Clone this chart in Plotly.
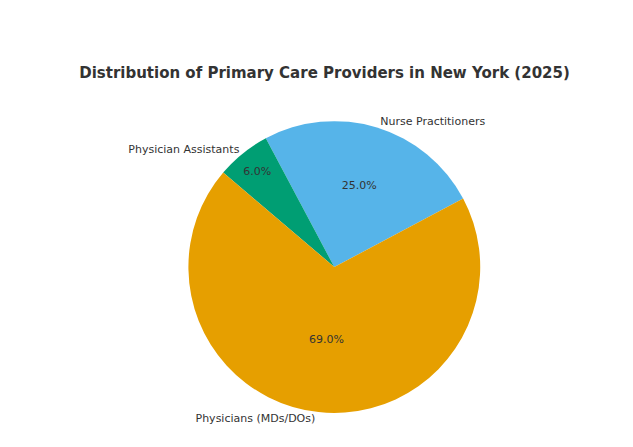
import plotly.graph_objects as go

labels = ["Nurse Practitioners", "Physician Assistants", "Physicians (MDs/DOs)"]
values = [25.0, 6.0, 69.0]
colors = ["#56B4E9", "#009E73", "#E69F00"]

dom = dict(x=[0.285, 0.746], y=[0.094, 0.747])
fig = go.Figure()
fig.add_trace(go.Pie(labels=labels, values=values, sort=False, direction="counterclockwise",
                     rotation=-28, marker=dict(colors=colors), textinfo="percent",
                     texttemplate="%{percent:.1%}", textposition="inside", insidetextorientation="horizontal",
                     textfont=dict(size=11, color="#333333", family="DejaVu Sans"), domain=dom,
                     showlegend=False, hoverinfo="label+percent"))
fig.add_trace(go.Pie(labels=labels, values=values, sort=False, direction="counterclockwise",
                     rotation=-28, marker=dict(colors=["rgba(0,0,0,0)"] * 3), textinfo="label",
                     textposition="outside", textfont=dict(size=11, color="#333333", family="DejaVu Sans"),
                     domain=dom, showlegend=False, hoverinfo="skip"))
fig.update_layout(
    width=633, height=447, paper_bgcolor="white", plot_bgcolor="white",
    margin=dict(l=0, r=0, t=0, b=0),
    title=dict(text="<b>Distribution of Primary Care Providers in New York (2025)</b>",
               x=0.5, xanchor="center", y=0.855, yanchor="middle",
               font=dict(size=15, color="#333333", family="DejaVu Sans")),
)
fig.write_html("out.html")
